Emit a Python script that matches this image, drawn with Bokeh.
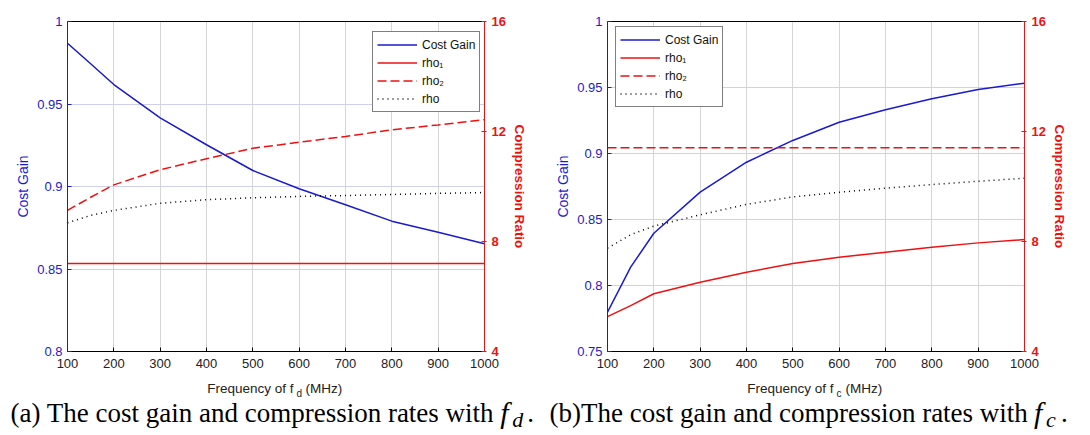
from bokeh.plotting import figure
from bokeh.models import (Range1d, LinearAxis, FixedTicker, Label, Legend, LegendItem,
                          CustomJSTickFormatter)
from bokeh.layouts import row, column
from bokeh.embed import file_html
from bokeh.resources import INLINE

# ---------------- data ----------------
freq = [100, 150, 200, 300, 400, 500, 600, 700, 800, 900, 1000]

# (a) varying f_d
cost_gain_fd = [0.9868, 0.9744, 0.9618, 0.9416, 0.9253, 0.9097, 0.8986, 0.8889, 0.8790, 0.8723, 0.8653]
rho1_fd = [7.2, 7.2, 7.2, 7.2, 7.2, 7.2, 7.2, 7.2, 7.2, 7.2, 7.2]
rho2_fd = [9.13, 9.61, 10.06, 10.61, 11.01, 11.39, 11.61, 11.82, 12.06, 12.24, 12.43]
rho_fd = [8.68, 8.95, 9.13, 9.39, 9.52, 9.59, 9.64, 9.67, 9.71, 9.75, 9.78]

# (b) varying f_c
cost_gain_fc = [0.7798, 0.8139, 0.8396, 0.8707, 0.8934, 0.9099, 0.9237, 0.9331, 0.9414, 0.9485, 0.9533]
rho1_fc = [5.27, 5.67, 6.10, 6.52, 6.88, 7.20, 7.43, 7.61, 7.79, 7.95, 8.07]
rho2_fc = [11.41, 11.41, 11.41, 11.41, 11.41, 11.41, 11.41, 11.41, 11.41, 11.41, 11.41]
rho_fc = [7.76, 8.25, 8.56, 8.97, 9.35, 9.62, 9.79, 9.94, 10.07, 10.19, 10.30]

x_ticks = [100, 200, 300, 400, 500, 600, 700, 800, 900, 1000]
gain_ticks_fd = [0.8, 0.85, 0.9, 0.95, 1.0]
gain_ticks_fc = [0.75, 0.8, 0.85, 0.9, 0.95, 1.0]
ratio_ticks = [4, 8, 12, 16]

legend_labels = ["Cost Gain", "rho\u2081", "rho\u2082", "rho"]
y_left_label = "Cost Gain"
y_right_label = "Compression Ratio"
x_label_main = "Frequency of f"
x_label_unit = "(MHz)"
caption_a = "(a) The cost gain and compression rates with"
caption_b = "(b)The cost gain and compression rates with"

BLUE = "#1a1ad0"
RED = "#ee1111"
SANS = "Liberation Sans"
SERIF = "Liberation Serif"


def panel(cost, r1, r2, r, gain_lo, gain_ticks, legend_xy, border_left, border_right):
    p = figure(frame_width=417, frame_height=330,
               x_range=Range1d(100, 1000), y_range=Range1d(gain_lo, 1.0),
               output_backend="svg", toolbar_location=None,
               min_border_left=border_left, min_border_right=border_right,
               min_border_top=21, min_border_bottom=26,
               background_fill_color="white", border_fill_color="white",
               outline_line_color=None)
    p.title = None
    p.extra_y_ranges = {"cr": Range1d(4, 16)}

    p.xgrid.ticker = FixedTicker(ticks=x_ticks)
    p.ygrid.ticker = FixedTicker(ticks=gain_ticks)
    p.xgrid.grid_line_color = "#d6d6d6"
    p.ygrid.grid_line_color = "#cfcfee"

    xa = p.xaxis[0]
    xa.ticker = FixedTicker(ticks=x_ticks)
    xa.axis_line_color = "black"
    xa.major_tick_line_color = "black"
    xa.major_tick_in = 4
    xa.major_tick_out = 0
    xa.minor_tick_line_color = None
    xa.major_label_text_font = SANS
    xa.major_label_text_font_size = "13px"
    xa.major_label_text_color = "#222222"
    xa.major_label_standoff = 7

    ya = p.yaxis[0]
    ya.ticker = FixedTicker(ticks=gain_ticks)
    ya.formatter = CustomJSTickFormatter(code="return String(Number(tick.toFixed(2)));")
    ya.axis_line_color = BLUE
    ya.major_tick_line_color = BLUE
    ya.major_tick_in = 4
    ya.major_tick_out = 0
    ya.minor_tick_line_color = None
    ya.major_label_text_font = SANS
    ya.major_label_text_font_size = "13px"
    ya.major_label_text_color = BLUE
    ya.major_label_standoff = 5
    ya.axis_label = y_left_label
    ya.axis_label_text_font = SANS
    ya.axis_label_text_font_size = "14px"
    ya.axis_label_text_font_style = "normal"
    ya.axis_label_text_color = BLUE
    ya.axis_label_standoff = 3

    ra = LinearAxis(y_range_name="cr", ticker=FixedTicker(ticks=ratio_ticks))
    ra.axis_line_color = RED
    ra.major_tick_line_color = RED
    ra.major_tick_in = 3
    ra.major_tick_out = 2
    ra.minor_tick_line_color = None
    ra.major_label_text_font = SANS
    ra.major_label_text_font_size = "13px"
    ra.major_label_text_font_style = "bold"
    ra.major_label_text_color = RED
    ra.major_label_standoff = 5
    ra.axis_label = y_right_label
    ra.axis_label_text_font = SANS
    ra.axis_label_text_font_size = "13.5px"
    ra.axis_label_text_font_style = "bold"
    ra.axis_label_text_color = RED
    ra.axis_label_standoff = 3
    p.add_layout(ra, "right")

    ta = LinearAxis(ticker=FixedTicker(ticks=[]))
    ta.axis_line_color = "black"
    ta.major_tick_line_color = None
    ta.minor_tick_line_color = None
    p.add_layout(ta, "above")

    l_cost = p.line(freq, cost, line_color=BLUE, line_width=1.5)
    l_r1 = p.line(freq, r1, y_range_name="cr", line_color=RED, line_width=1.5)
    l_r2 = p.line(freq, r2, y_range_name="cr", line_color=RED, line_width=1.5, line_dash="9 4")
    l_r = p.line(freq, r, y_range_name="cr", line_color="black", line_width=1.5, line_dash="1 4")

    leg = Legend(items=[LegendItem(label=legend_labels[0], renderers=[l_cost]),
                        LegendItem(label=legend_labels[1], renderers=[l_r1]),
                        LegendItem(label=legend_labels[2], renderers=[l_r2]),
                        LegendItem(label=legend_labels[3], renderers=[l_r])],
                 location=legend_xy, margin=0, padding=4, spacing=1,
                 glyph_width=40, glyph_height=17, label_height=17, label_standoff=5,
                 border_line_color="black", border_line_width=1,
                 background_fill_color="white", background_fill_alpha=1.0,
                 label_text_font=SANS, label_text_font_size="12px", label_text_color="#111111")
    p.add_layout(leg)
    return p


p1 = panel(cost_gain_fd, rho1_fd, rho2_fd, rho_fd, 0.8, gain_ticks_fd, (305, 239), 67, 64)
p2 = panel(cost_gain_fc, rho1_fc, rho2_fc, rho_fc, 0.75, gain_ticks_fc, (8, 244), 59, 50)

# ---- bottom strip: x-axis titles (with subscripts) and sub-figure captions ----
CAP_W, CAP_H = 1074, 54
TOP = 377  # page y of the strip's top edge (351 frame bottom + 26 border)
cap = figure(frame_width=CAP_W, frame_height=CAP_H, x_range=Range1d(0, CAP_W), y_range=Range1d(0, CAP_H),
             x_axis_type=None, y_axis_type=None, output_backend="svg", toolbar_location=None,
             min_border=0, min_border_left=0, min_border_right=0, min_border_top=0, min_border_bottom=0,
             background_fill_color="white", border_fill_color="white", outline_line_color=None)
cap.title = None


def txt(x, page_y, text, font, size, style="normal", align="left", color="black"):
    # the renderer places the glyph baseline ~0.25em below the anchor; compensate
    y = TOP + CAP_H - (page_y - 0.25 * size)
    cap.add_layout(Label(x=x, y=y, text=text, text_align=align,
                         text_baseline="alphabetic", text_font=font, text_font_size=f"{size}px",
                         text_font_style=style, text_color=color))


for frame_left, sub in ((67, "d"), (607, "c")):
    txt(frame_left + 226, 391, x_label_main, SANS, 13.5, align="right", color="#222222")
    txt(frame_left + 229, 395, sub, SANS, 10, color="#222222")
    txt(frame_left + 238, 391, x_label_unit, SANS, 13.5, color="#222222")

CAP_FONT = 27
for x0, em, text, sub in ((10, 17.913, caption_a, "d"), (549, 17.719, caption_b, "c")):
    txt(x0, 419, text, SERIF, CAP_FONT)
    end = x0 + CAP_FONT * em
    txt(end + 6, 419, "f", SERIF, 30, style="italic")
    txt(end + 18, 424, sub, SERIF, 22, style="italic")
    txt(end + 33, 419, ".", SERIF, CAP_FONT)

layout = column(row(p1, p2), cap)
open("out.html", "w").write(file_html(layout, INLINE))
